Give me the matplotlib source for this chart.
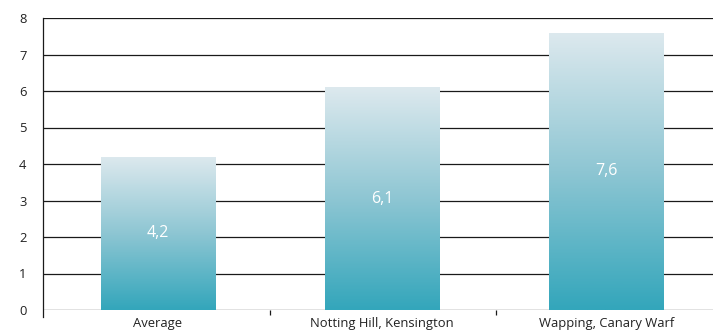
import numpy as np
import matplotlib
matplotlib.use("Agg")
import matplotlib.pyplot as plt
from matplotlib.colors import LinearSegmentedColormap

categories = ["Average", "Notting Hill, Kensington", "Wapping, Canary Warf"]
values = [4.2, 6.1, 7.6]
value_labels = ["4,2", "6,1", "7,6"]
yticks = [0, 1, 2, 3, 4, 5, 6, 7, 8]

plt.rcParams['font.family'] = ['Open Sans', 'DejaVu Sans']

W, H = 713, 332
fig = plt.figure(figsize=(W / 100, H / 100), dpi=100)
ax = fig.add_axes([43 / W, 22 / H, 673 / W, 292 / H])

# teal gradient, dark at the base and pale at the top
cmap = LinearSegmentedColormap.from_list("teal", ["#33a6bb", "#8ec6d3", "#dde9ee"])
grad = np.linspace(0, 1, 256).reshape(-1, 1)

x = np.arange(len(categories))
bw = 0.51
ax.set_xlim(-0.5, len(categories) - 0.5)
ax.set_ylim(0, 8)

for y in yticks:
    ax.axhline(y, color="#1a1a1a", lw=0.9, zorder=1)

bars = ax.bar(x + 0.012, values, width=bw, color="none", zorder=2)
for b, v, lab in zip(bars, values, value_labels):
    x0 = b.get_x()
    im = ax.imshow(grad, cmap=cmap, origin="lower", aspect="auto",
                   extent=[x0, x0 + bw, 0, v], zorder=2, interpolation="bilinear")
    im.set_clip_path(b)
    ax.text(b.get_x() + bw / 2, v / 2, lab, ha="center", va="center",
            color="white", fontsize=11.5, zorder=3)

ax.set_xlim(-0.5, len(categories) - 0.5)
ax.set_ylim(0, 8)

for s in ["top", "right", "bottom"]:
    ax.spines[s].set_visible(False)
ax.spines["left"].set_color("#1a1a1a")
ax.spines["left"].set_linewidth(0.9)
ax.spines["left"].set_bounds(-0.2, 8)

ax.set_yticks(yticks)
ax.tick_params(axis="y", length=0, pad=12, labelsize=9.4, colors="#222222")
ax.set_xticks(x + 0.012)
ax.set_xticklabels(categories, fontsize=9.4, color="#222222")
ax.set_xticks([0.51, 1.52], minor=True)
ax.tick_params(axis="x", which="major", length=0, pad=5)
ax.tick_params(axis="x", which="minor", length=3.5, width=0.9, color="#1a1a1a", direction="out")

fig.savefig("out.png", dpi=100)
